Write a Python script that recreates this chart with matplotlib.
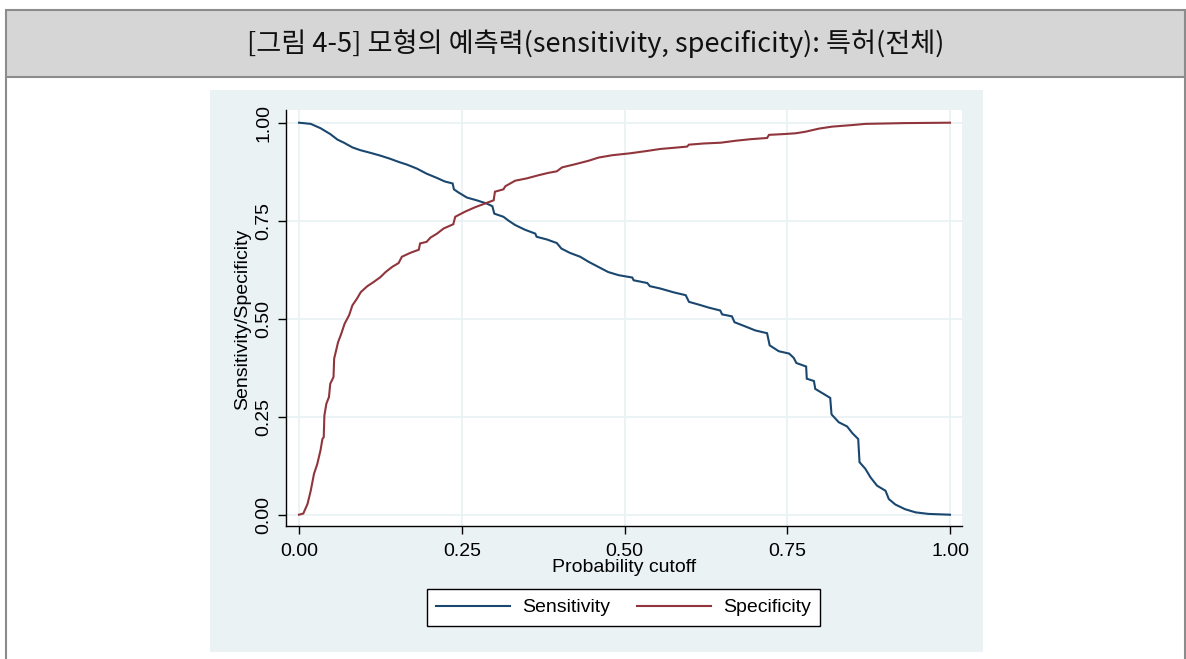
import matplotlib
matplotlib.use("Agg")
import matplotlib.pyplot as plt
from matplotlib.patches import Rectangle
from matplotlib.lines import Line2D

# ---- data -------------------------------------------------------------
cutoff_sens = [0, 0.018, 0.033, 0.048, 0.059, 0.069, 0.082, 0.094, 0.110, 0.125,
               0.140, 0.153, 0.166, 0.181, 0.196, 0.212, 0.224, 0.236, 0.238, 0.245,
               0.258, 0.273, 0.288, 0.297, 0.300, 0.314, 0.322, 0.332, 0.347, 0.363,
               0.365, 0.381, 0.396, 0.403, 0.416, 0.432, 0.445, 0.460, 0.475, 0.491,
               0.512, 0.514, 0.535, 0.539, 0.555, 0.576, 0.594, 0.599, 0.614, 0.630,
               0.647, 0.650, 0.665, 0.669, 0.686, 0.701, 0.719, 0.723, 0.737, 0.753,
               0.760, 0.764, 0.779, 0.780, 0.791, 0.793, 0.804, 0.816, 0.818, 0.829,
               0.842, 0.850, 0.859, 0.861, 0.870, 0.878, 0.888, 0.901, 0.906, 0.916,
               0.931, 0.947, 0.967, 1.0]
sensitivity = [1.0, 0.997, 0.986, 0.971, 0.957, 0.949, 0.937, 0.930, 0.923, 0.916,
               0.908, 0.900, 0.893, 0.883, 0.870, 0.859, 0.850, 0.845, 0.830, 0.822,
               0.809, 0.802, 0.794, 0.787, 0.768, 0.760, 0.750, 0.739, 0.727, 0.717,
               0.709, 0.702, 0.693, 0.679, 0.668, 0.658, 0.645, 0.632, 0.619, 0.611,
               0.605, 0.598, 0.591, 0.583, 0.577, 0.567, 0.560, 0.543, 0.536, 0.528,
               0.521, 0.511, 0.506, 0.491, 0.480, 0.470, 0.463, 0.432, 0.417, 0.411,
               0.400, 0.387, 0.378, 0.347, 0.341, 0.321, 0.310, 0.298, 0.256, 0.236,
               0.225, 0.208, 0.193, 0.134, 0.117, 0.095, 0.074, 0.061, 0.040, 0.026,
               0.014, 0.006, 0.002, 0.0]

cutoff_spec = [0, 0.0066, 0.013, 0.018, 0.023, 0.028, 0.033, 0.036, 0.038, 0.039,
               0.042, 0.046, 0.048, 0.053, 0.054, 0.057, 0.060, 0.065, 0.070, 0.077,
               0.082, 0.089, 0.095, 0.105, 0.115, 0.125, 0.133, 0.143, 0.153, 0.158,
               0.171, 0.184, 0.186, 0.196, 0.202, 0.212, 0.222, 0.237, 0.240, 0.255,
               0.270, 0.286, 0.299, 0.301, 0.314, 0.317, 0.332, 0.350, 0.368, 0.383,
               0.396, 0.404, 0.424, 0.445, 0.460, 0.481, 0.509, 0.535, 0.555, 0.576,
               0.596, 0.599, 0.622, 0.648, 0.671, 0.694, 0.719, 0.722, 0.745, 0.763,
               0.778, 0.799, 0.819, 0.850, 0.870, 0.901, 0.931, 1.0]
specificity = [0, 0.003, 0.027, 0.061, 0.104, 0.129, 0.164, 0.193, 0.198, 0.253,
               0.283, 0.300, 0.334, 0.351, 0.398, 0.419, 0.440, 0.462, 0.487, 0.509,
               0.534, 0.551, 0.568, 0.583, 0.594, 0.606, 0.619, 0.632, 0.642, 0.658,
               0.668, 0.676, 0.692, 0.696, 0.707, 0.717, 0.730, 0.741, 0.760, 0.773,
               0.784, 0.794, 0.802, 0.824, 0.830, 0.838, 0.852, 0.858, 0.866, 0.872,
               0.876, 0.886, 0.894, 0.903, 0.911, 0.917, 0.922, 0.928, 0.933, 0.936,
               0.939, 0.944, 0.947, 0.949, 0.954, 0.958, 0.961, 0.969, 0.971, 0.973,
               0.977, 0.985, 0.990, 0.994, 0.997, 0.998, 0.999, 1.0]

ticks = [0.0, 0.25, 0.5, 0.75, 1.0]
tick_labels = ["0.00", "0.25", "0.50", "0.75", "1.00"]
series_names = ["Sensitivity", "Specificity"]
title_text = "[그림 4-5] 모형의 예측력(sensitivity, specificity): 특허(전체)"
x_title = "Probability cutoff"
y_title = "Sensitivity/Specificity"

# ---- figure -----------------------------------------------------------
W, H = 1186, 659
fig = plt.figure(figsize=(W / 100, H / 100), dpi=100)
fig.patch.set_facecolor("white")


def fx(px):
    return px / W


def fy(py):
    return 1 - py / H


NAVY = "#1a476f"
MAROON = "#90353b"
REGION = "#eaf2f3"
BORDER = "#8c8c8c"
FONT = ["Liberation Sans", "DejaVu Sans"]
FS = 14

# caption box
fig.patches.append(Rectangle((fx(6), fy(77)), fx(1185) - fx(6), fy(10) - fy(77),
                             transform=fig.transFigure, facecolor="#d6d6d6",
                             edgecolor=BORDER, linewidth=1.5, zorder=0))
for xb in (6, 1185):
    fig.lines.append(Line2D([fx(xb), fx(xb)], [fy(77), 0], transform=fig.transFigure,
                            color=BORDER, linewidth=1.5, zorder=0))
fig.text(fx(596), fy(44), title_text, ha="center", va="center", fontsize=19.6,
         family=["Noto Sans CJK KR", "DejaVu Sans"], color="#111111")

# graph region
fig.patches.append(Rectangle((fx(210), fy(652)), fx(983) - fx(210), fy(90) - fy(652),
                             transform=fig.transFigure, facecolor=REGION,
                             edgecolor="none", zorder=0))

# plot region
ax_l, ax_r, ax_t, ax_b = 286.3, 961.7, 110, 526
ax = fig.add_axes([fx(ax_l), fy(ax_b), fx(ax_r) - fx(ax_l), fy(ax_t) - fy(ax_b)])
ax.set_zorder(2)
ax.set_facecolor("white")

x0_px, x1_px = 299.0, 950.0
y0_px, y1_px = 514.7, 122.7
xs = (x1_px - x0_px)
ys = (y0_px - y1_px)
ax.set_xlim((ax_l - x0_px) / xs, 1 + (ax_r - x1_px) / xs)
ax.set_ylim(-(ax_b - y0_px) / ys, 1 + (y1_px - ax_t) / ys)

ax.plot(cutoff_sens, sensitivity, color=NAVY, linewidth=1.5,
        solid_joinstyle="miter", label=series_names[0], zorder=3)
ax.plot(cutoff_spec, specificity, color=MAROON, linewidth=1.5,
        solid_joinstyle="miter", label=series_names[1], zorder=3)

ax.set_xticks(ticks)
ax.set_xticklabels(tick_labels, family=FONT, fontsize=FS)
ax.set_yticks(ticks)
ax.set_yticklabels(tick_labels, family=FONT, fontsize=FS, rotation=90, va="center")
ax.grid(True, color=REGION, linewidth=1.3, zorder=0)
ax.set_axisbelow(True)
for s in ("top", "right"):
    ax.spines[s].set_visible(False)
for s in ("left", "bottom"):
    ax.spines[s].set_color("black")
    ax.spines[s].set_linewidth(1.0)
ax.tick_params(axis="both", direction="out", length=6, width=1.0, color="black",
               labelcolor="black")
ax.tick_params(axis="x", pad=6)
ax.tick_params(axis="y", pad=4)

ax.set_xlabel(x_title, family=FONT, fontsize=FS)
ax.xaxis.label.set_va("center")
ax.xaxis.set_label_coords(0.5, (ax_b - 568) / (ax_b - ax_t))
ax.set_ylabel(y_title, family=FONT, fontsize=FS)
ax.yaxis.label.set_va("center")
ax.yaxis.set_label_coords((243 - ax_l) / (ax_r - ax_l), (ax_b - 319) / (ax_b - ax_t))

leg = fig.legend(loc="center", bbox_to_anchor=(fx(623.5), fy(607.5)), ncol=2,
                 prop={"family": FONT, "size": FS}, frameon=True, fancybox=False,
                 handlelength=3.8, handletextpad=0.6, columnspacing=1.4,
                 borderpad=0.5, borderaxespad=0)
leg.set_zorder(3)
leg.get_frame().set_edgecolor("black")
leg.get_frame().set_linewidth(1.0)
leg.get_frame().set_facecolor("white")
leg.get_frame().set_alpha(1)

fig.savefig("out.png", dpi=100, facecolor="white")
